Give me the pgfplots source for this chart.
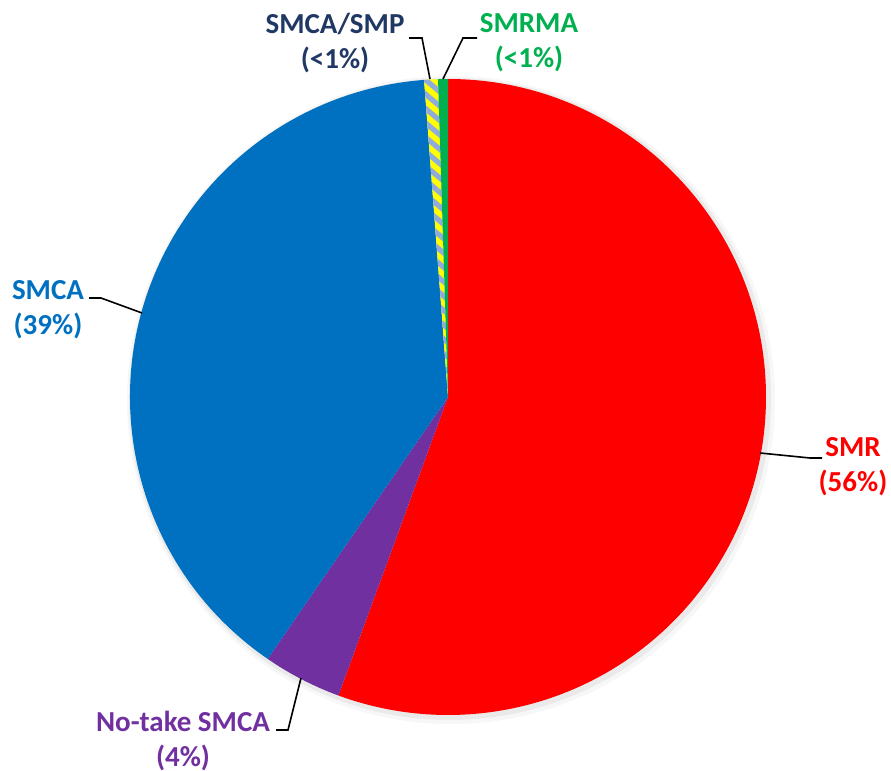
\documentclass[border=0pt]{standalone}
\usepackage{pgfplots}
\pgfplotsset{compat=1.18}
\usepackage{pgfplotstable}
\usepackage{fontspec}
\setmainfont{Carlito}
\usetikzlibrary{patterns.meta}
\definecolor{cred}{HTML}{FF0000}
\definecolor{cpurple}{HTML}{7030A0}
\definecolor{cblue}{HTML}{0070C0}
\definecolor{cyellow}{HTML}{FFFF00}
\definecolor{clblue}{HTML}{8FAADC}
\definecolor{cgreen}{HTML}{00B050}
\definecolor{cnavy}{HTML}{203864}
\pgfplotstableread{
name value
SMR 55.6
NoTake 4.0
SMCA 39.2
SMCASMP 0.7
SMRMA 0.5
}\piedata
\begin{document}%
\begin{tikzpicture}
\pgfplotstablegetelem{0}{value}\of\piedata \edef\vA{\pgfplotsretval}
\pgfplotstablegetelem{1}{value}\of\piedata \edef\vB{\pgfplotsretval}
\pgfplotstablegetelem{2}{value}\of\piedata \edef\vC{\pgfplotsretval}
\pgfplotstablegetelem{3}{value}\of\piedata \edef\vD{\pgfplotsretval}
\pgfplotstablegetelem{4}{value}\of\piedata \edef\vE{\pgfplotsretval}
\pgfmathsetmacro\aA{90}
\pgfmathsetmacro\aB{\aA-3.6*\vA}
\pgfmathsetmacro\aC{\aB-3.6*\vB}
\pgfmathsetmacro\aD{\aC-3.6*\vC}
\pgfmathsetmacro\aE{\aD-3.6*\vD}
\pgfmathsetmacro\aF{\aE-3.6*\vE}
\begin{axis}[
  x=0.5pt, y=0.5pt,
  xmin=0, xmax=891, ymin=0, ymax=771,
  y dir=reverse,
  hide axis, clip=false,
]
\path (axis cs:0,0) rectangle (axis cs:891,771);
% soft shadow
\fill[black, opacity=0.03] (axis cs:451,400) circle[radius=162pt];
\fill[black, opacity=0.05] (axis cs:450,399) circle[radius=160.5pt];
% slices
\fill[cred] (axis cs:448,397) -- ++(\aA:159pt) arc[start angle=\aA, end angle=\aB, radius=159pt] -- cycle;
\fill[cpurple] (axis cs:448,397) -- ++(\aB:159pt) arc[start angle=\aB, end angle=\aC, radius=159pt] -- cycle;
\fill[cblue] (axis cs:448,397) -- ++(\aC:159pt) arc[start angle=\aC, end angle=\aD, radius=159pt] -- cycle;
\fill[cyellow] (axis cs:448,397) -- ++(\aD:159pt) arc[start angle=\aD, end angle=\aE, radius=159pt] -- cycle;
\fill[pattern={Lines[angle=-40,distance=5.5pt,line width=2.6pt]}, pattern color=clblue] (axis cs:448,397) -- ++(\aD:159pt) arc[start angle=\aD, end angle=\aE, radius=159pt] -- cycle;
\fill[cgreen] (axis cs:448,397) -- ++(\aE:159pt) arc[start angle=\aE, end angle=\aF, radius=159pt] -- cycle;
% leader lines
\draw[black, line width=0.8pt] (axis cs:760,453) -- (axis cs:810,458) -- (axis cs:822,458);
\draw[black, line width=0.8pt] (axis cs:89,298) -- (axis cs:101,298) -- (axis cs:142,313);
\draw[black, line width=0.8pt] (axis cs:276,730) -- (axis cs:288,730) -- (axis cs:301,678);
\draw[black, line width=0.8pt] (axis cs:409,38) -- (axis cs:422,38) -- (axis cs:430,79);
\draw[black, line width=0.8pt] (axis cs:477,38) -- (axis cs:463,38) -- (axis cs:443,79);
% labels
\tikzset{lab/.style={font=\fontsize{14.5}{17.5}\selectfont\bfseries, align=center, inner sep=0pt}}
\node[lab, text=cred] at (axis cs:853,467) {SMR\\(56\%)};
\node[lab, text=cblue] at (axis cs:48,310) {SMCA\\(39\%)};
\node[lab, text=cpurple] at (axis cs:183,741) {No-take SMCA\\(4\%)};
\node[lab, text=cnavy] at (axis cs:335,43) {SMCA/SMP\\(<1\%)};
\node[lab, text=cgreen] at (axis cs:529,43) {SMRMA\\(<1\%)};
\end{axis}
\end{tikzpicture}%
\end{document}
